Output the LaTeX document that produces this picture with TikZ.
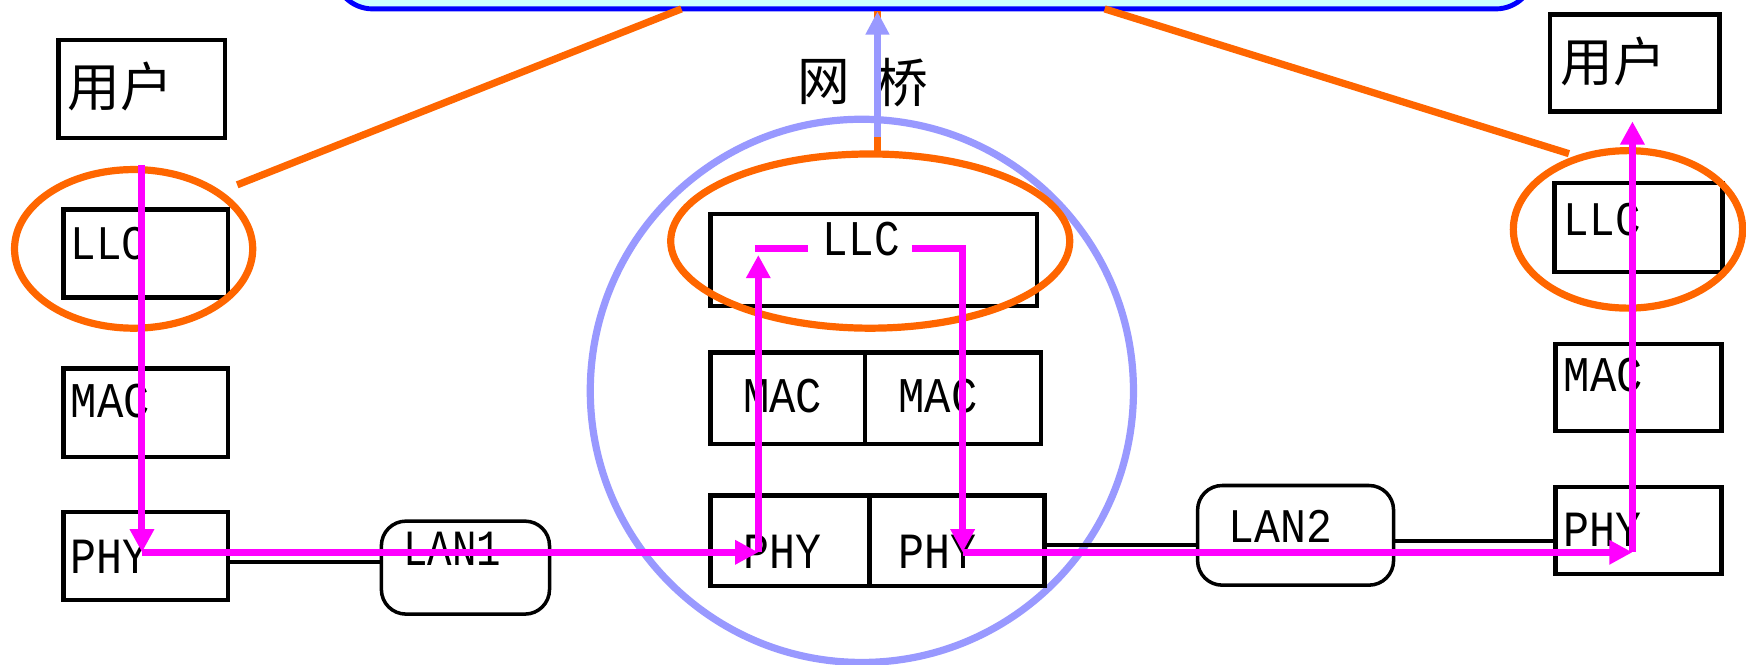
\documentclass[tikz,border=0pt]{standalone}
\usepackage{fontspec}
\usepackage{graphicx}
\newfontfamily\cjk{Noto Sans CJK SC}
\newfontfamily\mono{Liberation Mono}
\usetikzlibrary{arrows.meta,fit,shapes.geometric}
\definecolor{org}{HTML}{FF6600}
\definecolor{mag}{HTML}{FF00FF}
\definecolor{lav}{HTML}{9999FF}
\definecolor{blu}{HTML}{0000FF}
\definecolor{cyanfill}{HTML}{CCFFFF}
\newlength\pu \setlength\pu{0.3168pt}
\newcommand\lbl[3]{\resizebox{#1\pu}{#2\pu}{\mono #3}}
\begin{document}
\begin{tikzpicture}[x=0.011135cm,y=-0.011135cm,
  box/.style={draw=black,line width=1.25pt,inner sep=0pt},
  lan/.style={draw=black,line width=1pt,inner sep=0pt,rounded corners=7pt},
  wire/.style={draw=black,line width=1.05pt},
  oell/.style={ellipse,draw=org,line width=2.05pt,inner sep=0pt},
  oline/.style={draw=org,line width=2.05pt},
  txt/.style={inner sep=0pt,outer sep=0pt},
  cjktxt/.style={inner sep=0pt,outer sep=0pt,font=\cjk\fontsize{15pt}{15pt}\selectfont},
  mg/.style={draw=mag,line width=2pt,-{Triangle[length=6.6pt,width=6.6pt]}},
  mgl/.style={draw=mag,line width=2pt},
  lv/.style={draw=lav,line width=1.9pt,-{Triangle[length=6.6pt,width=6.4pt]}}]
\clip (0,0) rectangle (1568,597.2);
\fill[white] (0,0) rectangle (1568,597.2);

% bridge circle
\node[circle,draw=lav,line width=2.05pt,inner sep=0pt,minimum size=488\pu] (br) at (774,351) {};

% boxes left
\node[box,fit={(52.5,36) (202,124)}] (u1) {};
\node[box,fit={(57,188) (205,267)}] (ll) {};
\node[box,fit={(57,331) (205,410.5)}] (ml) {};
\node[box,fit={(57,460) (205,539)}] (pl) {};
% boxes middle
\node[box,fit={(638,192) (931,275)}] (lm) {};
\node[box,fit={(638,316.5) (777,398.5)}] (mm1) {};
\node[box,fit={(777,316.5) (935,398.5)}] (mm2) {};
\node[box,fit={(638,445) (781,526)}] (pm1) {};
\node[box,fit={(781,445) (938,526)}] (pm2) {};
% boxes right
\node[box,fit={(1392,13) (1544,100)}] (u2) {};
\node[box,fit={(1396,164.5) (1547,244)}] (lr) {};
\node[box,fit={(1397,309) (1546,387)}] (mr) {};
\node[box,fit={(1397,437.5) (1546,515.5)}] (pr) {};
% LANs
\node[lan,fit={(342.5,468) (493.5,551.5)}] (lan1) {};
\node[lan,fit={(1075.5,436) (1251.5,525.5)}] (lan2) {};

% wires
\coordinate (y1) at (0,505);
\coordinate (y2) at (0,489.5);
\coordinate (y3) at (0,486);
\draw[wire] (pl.east |- y1) -- (lan1.west |- y1);
\draw[wire] (pm2.east |- y2) -- (lan2.west |- y2);
\draw[wire] (lan2.east |- y3) -- (pr.west |- y3);

% orange ellipses
\node[oell,minimum width=214\pu,minimum height=142.5\pu] (e1) at (120,223.5) {};
\node[oell,minimum width=358.5\pu,minimum height=156.5\pu] (e2) at (781.5,216.5) {};
\node[oell,minimum width=206\pu,minimum height=141.5\pu] (e3) at (1462,206) {};

% top box
\node[draw=blu,fill=cyanfill,line width=1.4pt,rounded corners=11pt,inner sep=0pt,fit={(300,-80) (1378,8)}] (top) {};

% orange lines
\coordinate (o1) at (213,166);
\coordinate (o1e) at (612,8);
\coordinate (o3) at (1409,138);
\coordinate (o3e) at (992,8);
\coordinate (o2) at (788,136);
\draw[oline] (o1) -- (o1e);
\draw[oline] (o3) -- (o3e);
\draw[oline] (o2) -- (o2 |- top.south);

% texts
\node[cjktxt] (tu1) at (108,78) {用户};
\node[cjktxt] (tu2) at (1449,55) {用户};
\node[cjktxt] (tw) at (740,74) {网};
\node[cjktxt] (tq) at (810,74) {桥};
\node[txt,anchor=west] (tll) at (63.5,219) {\lbl{69}{29}{LLC}};
\node[txt,anchor=west] (tml) at (63.5,360) {\lbl{71}{30}{MAC}};
\node[txt,anchor=west] (tpl) at (63.5,500) {\lbl{70}{30}{PHY}};
\node[txt,anchor=west] (tlr) at (1404.5,197) {\lbl{69}{29}{LLC}};
\node[txt,anchor=west] (tmr) at (1404.5,337) {\lbl{71}{30}{MAC}};
\node[txt,anchor=west] (tpr) at (1404.5,476) {\lbl{70}{30}{PHY}};
\node[txt] (tlm) at (773.5,215) {\lbl{69}{30}{LLC}};
\node[txt] (tmm1) at (703,356) {\lbl{71}{30}{MAC}};
\node[txt] (tmm2) at (842.5,356) {\lbl{71}{30}{MAC}};
\node[txt] (tpm1) at (702.5,495.5) {\lbl{70}{30}{PHY}};
\node[txt] (tpm2) at (841.5,495.5) {\lbl{70}{30}{PHY}};
\node[txt] (tlan1) at (406,492.5) {\lbl{88}{30}{LAN1}};
\node[txt] (tlan2) at (1150,473) {\lbl{93}{29}{LAN2}};

% magenta path
\coordinate (a0) at (127.5,148);
\coordinate (a1) at (127.5,496);
\coordinate (a2) at (681,496);
\coordinate (a3) at (681,229);
\coordinate (b0) at (678,223);
\coordinate (b1) at (726,223);
\coordinate (c0) at (819,223);
\coordinate (c1) at (864.5,223);
\coordinate (c2) at (864.5,496);
\coordinate (d1) at (1466,496);
\coordinate (d2) at (1466,109);
\draw[mg] (a0) -- (a1);
\draw[mg] (a1) -- (a2);
\draw[mg] (a2) -- (a3);
\draw[mgl] (b0) -- (b1);
\draw[mg] (c0) -- (c1) -- (c2);
\draw[mg] (c2) -- (d1);
\draw[mg] (d1) -- (d2);

% lavender arrow
\coordinate (l0) at (788,123);
\draw[lv] (l0) -- (l0 |- top.south);
\end{tikzpicture}
\end{document}
